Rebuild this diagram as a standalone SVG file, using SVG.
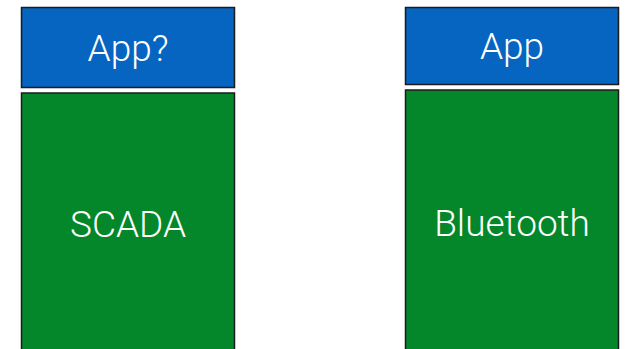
<svg xmlns="http://www.w3.org/2000/svg" width="627" height="349" viewBox="0 0 627 349">
<style>
.blue{fill:#0565c0;stroke:#1b1b1b;stroke-width:1.5}
.green{fill:#04872a;stroke:#1b1b1b;stroke-width:1.5}
.t{fill:#ffffff;font-family:Roboto,"Liberation Sans",Arial,sans-serif;font-weight:300;font-size:37px;text-anchor:middle}
</style>
<rect width="627" height="349" fill="#ffffff"/>
<g id="app-left">
<rect class="blue" x="21.5" y="7.5" width="213" height="80"/>
<text class="t" x="128" y="61">App?</text>
</g>
<g id="scada">
<rect class="green" x="21.5" y="93" width="213" height="262"/>
<text class="t" x="128" y="237">SCADA</text>
</g>
<g id="app-right">
<rect class="blue" x="405.5" y="7.5" width="213" height="77"/>
<text class="t" x="512" y="59">App</text>
</g>
<g id="bluetooth">
<rect class="green" x="405.5" y="90" width="213" height="265"/>
<text class="t" x="512" y="236">Bluetooth</text>
</g>
<g id="connectors"></g>
</svg>
